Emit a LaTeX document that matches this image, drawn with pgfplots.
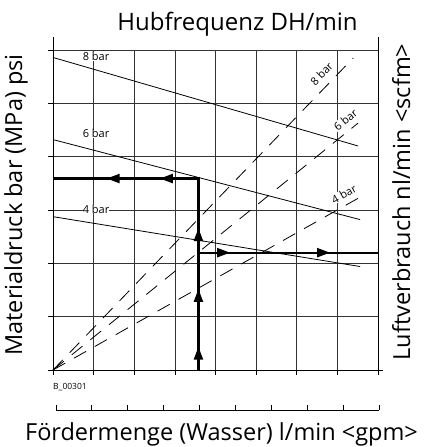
\documentclass[border=0pt]{standalone}
\usepackage{fontspec}
\setmainfont{Open Sans}
\usepackage{pgfplots}
\pgfplotsset{compat=1.18}
\usetikzlibrary{arrows.meta}

\begin{document}
\begin{tikzpicture}[x=1pt,y=1pt]
\path[use as bounding box] (0,0) rectangle (426,447);
\begin{axis}[at={(53pt,77pt)}, anchor=south west, scale only axis,
  width=325pt, height=320pt, xmin=0, xmax=8, ymin=0, ymax=6,
  xtick={0,...,8}, ytick={0,...,6}, xticklabels={}, yticklabels={},
  grid=major, grid style={black!80, line width=0.6pt},
  axis line style={draw=none}, tick align=outside, major tick length=5pt,
  tick pos=left, tick style={black, line width=0.7pt}, clip=false]
% pressure lines (solid)
\addplot[black, line width=0.8pt] coordinates {(0,5.86) (7.51,4.20)};
\addplot[black, line width=0.8pt] coordinates {(0,4.32) (7.56,2.82)};
\addplot[black, line width=0.8pt] coordinates {(0,2.875) (7.56,1.94)};
% air consumption (dashed)
\addplot[black, line width=0.8pt, dash pattern=on 14pt off 10pt] coordinates {(0,0) (7.39,5.85)};
\addplot[black, line width=0.8pt, dash pattern=on 14pt off 10pt] coordinates {(0,0) (7.51,4.63)};
\addplot[black, line width=0.8pt, dash pattern=on 14pt off 10pt] coordinates {(0,0) (7.51,3.22)};
% thick reading lines
\addplot[black, line width=2.2pt] coordinates {(0,3.59) (3.58,3.59) (3.58,0)};
\addplot[black, line width=2.2pt] coordinates {(3.58,2.2) (8,2.2)};
\addplot[black, line width=2.2pt, -{Triangle[length=13pt,width=9pt]}] coordinates {(3.58,0) (3.58,0.437)};
\addplot[black, line width=2.2pt, -{Triangle[length=13pt,width=9pt]}] coordinates {(3.58,0) (3.58,1.52)};
\addplot[black, line width=2.2pt, -{Triangle[length=13pt,width=9pt]}] coordinates {(3.58,0) (3.58,2.66)};
\addplot[black, line width=2.2pt, -{Triangle[length=13pt,width=9pt]}] coordinates {(3.58,3.59) (1.32,3.59)};
\addplot[black, line width=2.2pt, -{Triangle[length=13pt,width=9pt]}] coordinates {(3.58,3.59) (2.63,3.59)};
\addplot[black, line width=2.2pt, -{Triangle[length=13pt,width=9pt]}] coordinates {(3.58,2.2) (4.36,2.2)};
\addplot[black, line width=2.2pt, -{Triangle[length=13pt,width=9pt]}] coordinates {(3.58,2.2) (6.82,2.2)};
% labels
\node[anchor=base, fill=white, inner sep=0pt, font=\fontsize{11}{12}\selectfont] at (axis cs:1.06,5.80) {8 bar};
\node[anchor=base, fill=white, inner sep=0pt, font=\fontsize{11}{12}\selectfont] at (axis cs:1.06,4.35) {6 bar};
\node[anchor=base, fill=white, inner sep=0pt, font=\fontsize{11}{12}\selectfont] at (axis cs:1.06,2.94) {4 bar};
\node[rotate=46, fill=white, inner sep=0.5pt, font=\fontsize{11}{12}\selectfont] at (axis cs:6.61,5.55) {8 bar};
\node[rotate=39, fill=white, inner sep=0.5pt, font=\fontsize{11}{12}\selectfont] at (axis cs:7.2,4.69) {6 bar};
\node[rotate=29, fill=white, inner sep=0.5pt, font=\fontsize{11}{12}\selectfont] at (axis cs:7.16,3.30) {4 bar};
% frame
\draw[black, line width=0.8pt] ([yshift=13pt]axis cs:0,6) -- (axis cs:0,0) -- ([xshift=5pt]axis cs:8,0);
\draw[black, line width=0.8pt] ([yshift=13pt]axis cs:8,6) -- ([yshift=-3pt]axis cs:8,0);
\end{axis}
\begin{axis}[at={(56pt,37pt)}, anchor=south west, scale only axis,
  width=323pt, height=20pt, xmin=0, xmax=9, ymin=0, ymax=1,
  axis x line=bottom, hide y axis, xtick={0,...,9}, xticklabels={},
  tick align=inside, major tick length=5pt,
  axis line style={-, line width=0.8pt}, tick style={black, line width=0.8pt}]
\addplot[draw=none] coordinates {(0,0)};
\end{axis}
\node[anchor=base, font=\fontsize{24}{26}\selectfont, inner sep=0pt] at (237.5,416) {Hubfrequenz DH/min};
\node[anchor=base, font=\fontsize{23.5}{26}\selectfont, inner sep=0pt] at (221.5,6.5) {Fördermenge (Wasser) l/min <gpm>};
\node[rotate=90, anchor=base, font=\fontsize{23.5}{26}\selectfont, inner sep=0pt] at (22,242) {Materialdruck bar (MPa) psi};
\node[rotate=90, anchor=base, font=\fontsize{23.5}{26}\selectfont, inner sep=0pt] at (410,245) {Luftverbrauch nl/min <scfm>};
\node[anchor=base west, font=\fontsize{8.5}{9}\selectfont, inner sep=0pt] at (53,57) {B\_00301};
\end{tikzpicture}
\end{document}
